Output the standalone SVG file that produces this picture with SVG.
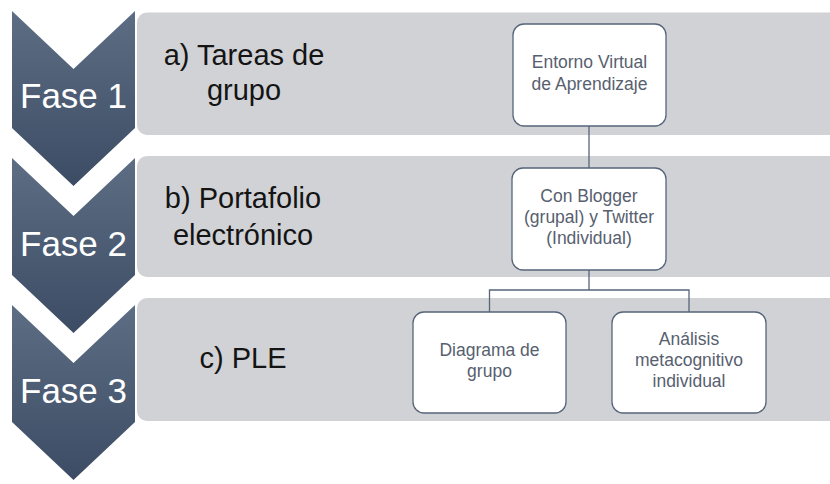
<svg xmlns="http://www.w3.org/2000/svg" width="830" height="484" viewBox="0 0 830 484">
  <defs>
    <linearGradient id="chev" x1="0" y1="0" x2="0" y2="1">
      <stop offset="0" stop-color="#5d6d84"/>
      <stop offset="1" stop-color="#3c4c64"/>
    </linearGradient>
  </defs>
  <style>
    .chev { fill: url(#chev); }
    .panel { fill: #d1d2d6; }
    .fase { font-family: "Liberation Sans", Arial, sans-serif; font-size: 35px; fill: #ffffff; text-anchor: middle; }
    .ptxt { font-family: "Liberation Sans", Arial, sans-serif; font-size: 29px; fill: #141414; text-anchor: middle; }
    .node { fill: #ffffff; stroke: #56657a; stroke-width: 1.3; }
    .ntxt { font-family: "Liberation Sans", Arial, sans-serif; font-size: 17.5px; fill: #57606f; text-anchor: middle; }
    .conn { fill: none; stroke: #56657a; stroke-width: 1.3; }
  </style>

  <rect width="830" height="484" fill="#ffffff"/>

  <g id="fase1">
    <polygon class="chev" points="12,11 73.5,69 135,11 135,128 73.5,186 12,128"/>
    <text class="fase" x="73.5" y="108">Fase 1</text>
    <rect class="panel" x="137" y="12.5" width="710" height="122.5" rx="10"/>
    <text class="ptxt" x="244" y="65">a) Tareas de</text>
    <text class="ptxt" x="244" y="100">grupo</text>
  </g>

  <g id="fase2">
    <polygon class="chev" points="12,158 73.5,216 135,158 135,275 73.5,333 12,275"/>
    <text class="fase" x="73.5" y="256">Fase 2</text>
    <rect class="panel" x="137" y="156" width="710" height="121" rx="10"/>
    <text class="ptxt" x="243" y="208">b) Portafolio</text>
    <text class="ptxt" x="243" y="245">electrónico</text>
  </g>

  <g id="fase3">
    <polygon class="chev" points="12,305 73.5,363 135,305 135,422 73.5,480 12,422"/>
    <text class="fase" x="73.5" y="403">Fase 3</text>
    <rect class="panel" x="137" y="298" width="710" height="123" rx="10"/>
    <text class="ptxt" x="243" y="368">c) PLE</text>
  </g>

  <g id="connectors">
    <line class="conn" x1="589" y1="126" x2="589" y2="168"/>
    <path class="conn" d="M589,270 V290 M489.5,312 V290 H689 V312"/>
  </g>

  <g id="node-eva">
    <rect class="node" x="513" y="24" width="153" height="102" rx="11"/>
    <text class="ntxt" x="589.5" y="68">Entorno Virtual</text>
    <text class="ntxt" x="589.5" y="90">de Aprendizaje</text>
  </g>

  <g id="node-blogger">
    <rect class="node" x="512" y="168" width="154" height="102" rx="11"/>
    <text class="ntxt" x="589" y="202">Con Blogger</text>
    <text class="ntxt" x="589" y="223">(grupal) y Twitter</text>
    <text class="ntxt" x="589" y="244">(Individual)</text>
  </g>

  <g id="node-diagrama">
    <rect class="node" x="413" y="312" width="153" height="101" rx="11"/>
    <text class="ntxt" x="489.5" y="356">Diagrama de</text>
    <text class="ntxt" x="489.5" y="377">grupo</text>
  </g>

  <g id="node-analisis">
    <rect class="node" x="612" y="312" width="154" height="101" rx="11"/>
    <text class="ntxt" x="689" y="345">Análisis</text>
    <text class="ntxt" x="689" y="366">metacognitivo</text>
    <text class="ntxt" x="689" y="387">individual</text>
  </g>
</svg>
